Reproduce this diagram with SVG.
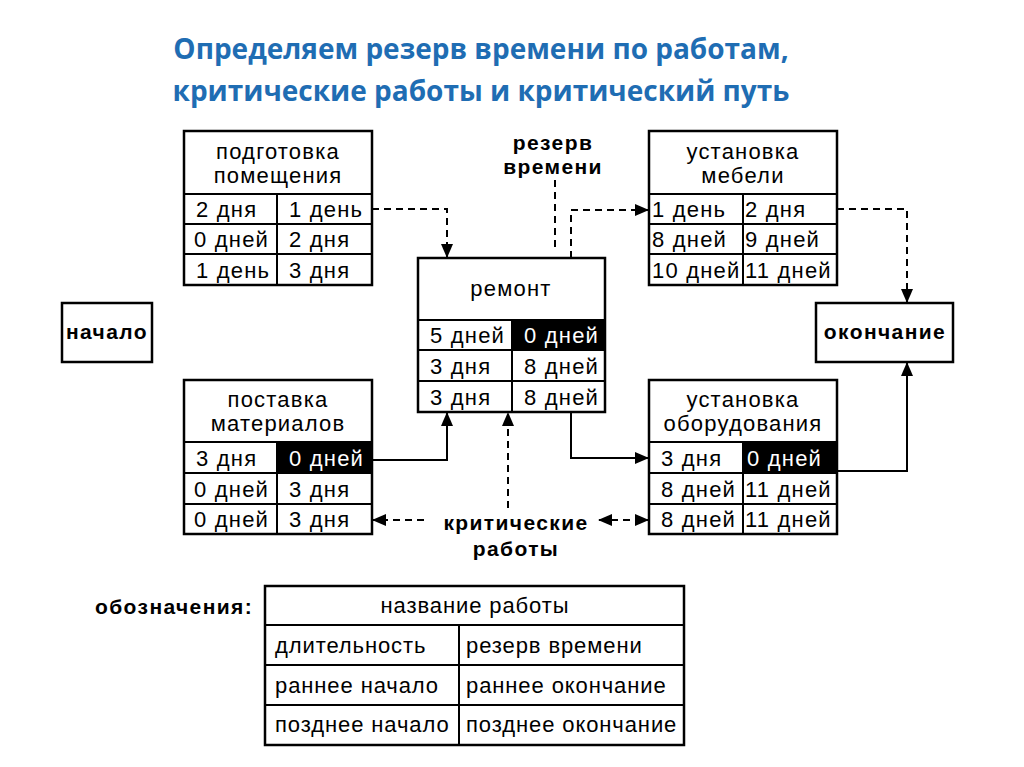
<svg xmlns="http://www.w3.org/2000/svg" width="1024" height="767" viewBox="0 0 1024 767">
<defs>
<marker id="ah" markerWidth="14" markerHeight="12" refX="13" refY="6" orient="auto" markerUnits="userSpaceOnUse">
<path d="M0,0 L14,6 L0,12 Z" fill="#000"/>
</marker>
<marker id="ahs" markerWidth="14" markerHeight="12" refX="1" refY="6" orient="auto" markerUnits="userSpaceOnUse">
<path d="M14,0 L0,6 L14,12 Z" fill="#000"/>
</marker>
</defs>
<style>
.t{font-family:"Open Sans","Liberation Sans",sans-serif;font-weight:bold;font-size:28px;fill:#1f6db3;text-anchor:middle}
.c{font-family:"Liberation Sans",Arial,sans-serif;font-size:22px;letter-spacing:1.2px;fill:#000}
.g{font-family:"Liberation Sans",Arial,sans-serif;font-size:22px;letter-spacing:0.9px;fill:#000}
.w{fill:#fff}
.m{text-anchor:middle}
.b{font-family:"Liberation Sans",Arial,sans-serif;font-weight:bold;font-size:21px;letter-spacing:1.4px;fill:#000;text-anchor:middle}
.box{fill:#fff;stroke:#000;stroke-width:2.5}
.ln{stroke:#000;stroke-width:2}
.blk{fill:#000}
.cn{fill:none;stroke:#000;stroke-width:2}
.d{stroke-dasharray:7,5}
</style>
<rect width="1024" height="767" fill="#fff"/>
<text class="t" x="481" y="59">Определяем резерв времени по работам,</text>
<text class="t" x="481" y="101">критические работы и критический путь</text>

<g id="n_podgotovka">
<rect class="box" x="184" y="131" width="188" height="154"/>
<line class="ln" x1="184" y1="194" x2="372" y2="194"/>
<line class="ln" x1="184" y1="224" x2="372" y2="224"/>
<line class="ln" x1="184" y1="254" x2="372" y2="254"/>
<line class="ln" x1="277" y1="194" x2="277" y2="285"/>
<text class="c m" x="278" y="159">подготовка</text>
<text class="c m" x="278" y="183">помещения</text>
<text class="c" x="196" y="217">2 дня</text><text class="c" x="289" y="217">1 день</text>
<text class="c" x="194" y="247">0 дней</text><text class="c" x="289" y="247">2 дня</text>
<text class="c" x="196" y="278">1 день</text><text class="c" x="289" y="278">3 дня</text>
</g>

<g id="n_remont">
<rect class="box" x="418" y="258" width="187" height="154"/>
<rect class="blk" x="512" y="320" width="93" height="30"/>
<line class="ln" x1="418" y1="320" x2="605" y2="320"/>
<line class="ln" x1="418" y1="350" x2="605" y2="350"/>
<line class="ln" x1="418" y1="381" x2="605" y2="381"/>
<line class="ln" x1="512" y1="320" x2="512" y2="412"/>
<text class="c m" x="511" y="296">ремонт</text>
<text class="c" x="430" y="343">5 дней</text><text class="c w" x="524" y="343">0 дней</text>
<text class="c" x="430" y="374">3 дня</text><text class="c" x="524" y="374">8 дней</text>
<text class="c" x="430" y="405">3 дня</text><text class="c" x="524" y="405">8 дней</text>
</g>

<g id="n_mebel">
<rect class="box" x="649" y="131" width="188" height="154"/>
<line class="ln" x1="649" y1="194" x2="837" y2="194"/>
<line class="ln" x1="649" y1="224" x2="837" y2="224"/>
<line class="ln" x1="649" y1="254" x2="837" y2="254"/>
<line class="ln" x1="743" y1="194" x2="743" y2="285"/>
<text class="c m" x="743" y="159">установка</text>
<text class="c m" x="743" y="183">мебели</text>
<text class="c" x="652" y="217">1 день</text><text class="c" x="745" y="217">2 дня</text>
<text class="c" x="652" y="247">8 дней</text><text class="c" x="745" y="247">9 дней</text>
<text class="c" x="652" y="278">10 дней</text><text class="c" x="745" y="278">11 дней</text>
</g>

<g id="n_postavka">
<rect class="box" x="184" y="380" width="188" height="154"/>
<rect class="blk" x="277" y="442" width="95" height="31"/>
<line class="ln" x1="184" y1="442" x2="372" y2="442"/>
<line class="ln" x1="184" y1="473" x2="372" y2="473"/>
<line class="ln" x1="184" y1="504" x2="372" y2="504"/>
<line class="ln" x1="277" y1="442" x2="277" y2="534"/>
<text class="c m" x="278" y="407">поставка</text>
<text class="c m" x="278" y="431">материалов</text>
<text class="c" x="196" y="466">3 дня</text><text class="c w" x="289" y="466">0 дней</text>
<text class="c" x="194" y="497">0 дней</text><text class="c" x="289" y="497">3 дня</text>
<text class="c" x="194" y="527">0 дней</text><text class="c" x="289" y="527">3 дня</text>
</g>

<g id="n_oborud">
<rect class="box" x="649" y="380" width="188" height="154"/>
<rect class="blk" x="743" y="442" width="94" height="31"/>
<line class="ln" x1="649" y1="442" x2="837" y2="442"/>
<line class="ln" x1="649" y1="473" x2="837" y2="473"/>
<line class="ln" x1="649" y1="504" x2="837" y2="504"/>
<line class="ln" x1="743" y1="442" x2="743" y2="534"/>
<text class="c m" x="743" y="407">установка</text>
<text class="c m" x="743" y="431">оборудования</text>
<text class="c" x="661" y="466">3 дня</text><text class="c w" x="747" y="466">0 дней</text>
<text class="c" x="661" y="497">8 дней</text><text class="c" x="745" y="497">11 дней</text>
<text class="c" x="661" y="527">8 дней</text><text class="c" x="745" y="527">11 дней</text>
</g>

<g id="n_nachalo">
<rect class="box" x="62" y="303" width="90" height="59"/>
<text class="b" x="107" y="339">начало</text>
</g>

<g id="n_okonchanie">
<rect class="box" x="816" y="303" width="137" height="59"/>
<text class="b" x="885" y="339">окончание</text>
</g>

<g id="labels">
<text class="b" x="553" y="150">резерв</text>
<text class="b" x="553" y="174">времени</text>
<text class="b" x="516" y="530">критические</text>
<text class="b" x="516" y="556">работы</text>
</g>

<g id="connectors">
<path class="cn d" d="M372,209 H447 V257" marker-end="url(#ah)"/>
<path class="cn d" d="M555,180 V248"/>
<path class="cn d" d="M571,258 V210 H648" marker-end="url(#ah)"/>
<path class="cn d" d="M837,209 H907 V302" marker-end="url(#ah)"/>
<path class="cn" d="M372,460 H447 V413" marker-end="url(#ah)"/>
<path class="cn d" d="M508,508 V413" marker-end="url(#ah)"/>
<path class="cn" d="M571,412 V458 H648" marker-end="url(#ah)"/>
<path class="cn" d="M837,471 H907 V363" marker-end="url(#ah)"/>
<path class="cn d" d="M424,520 H373" marker-end="url(#ah)"/>
<path class="cn d" d="M599,520 H648" marker-start="url(#ahs)" marker-end="url(#ah)"/>
</g>

<g id="legend">
<text class="b" x="95" y="614" style="text-anchor:start">обозначения:</text>
<rect class="box" x="265" y="586" width="419" height="159"/>
<line class="ln" x1="265" y1="625" x2="684" y2="625"/>
<line class="ln" x1="265" y1="665" x2="684" y2="665"/>
<line class="ln" x1="265" y1="705" x2="684" y2="705"/>
<line class="ln" x1="459" y1="625" x2="459" y2="745"/>
<text class="g m" x="475" y="613">название работы</text>
<text class="g" x="275" y="653">длительность</text><text class="g" x="466" y="653">резерв времени</text>
<text class="g" x="275" y="693">раннее начало</text><text class="g" x="466" y="693">раннее окончание</text>
<text class="g" x="275" y="732">позднее начало</text><text class="g" x="466" y="732">позднее окончание</text>
</g>
</svg>
